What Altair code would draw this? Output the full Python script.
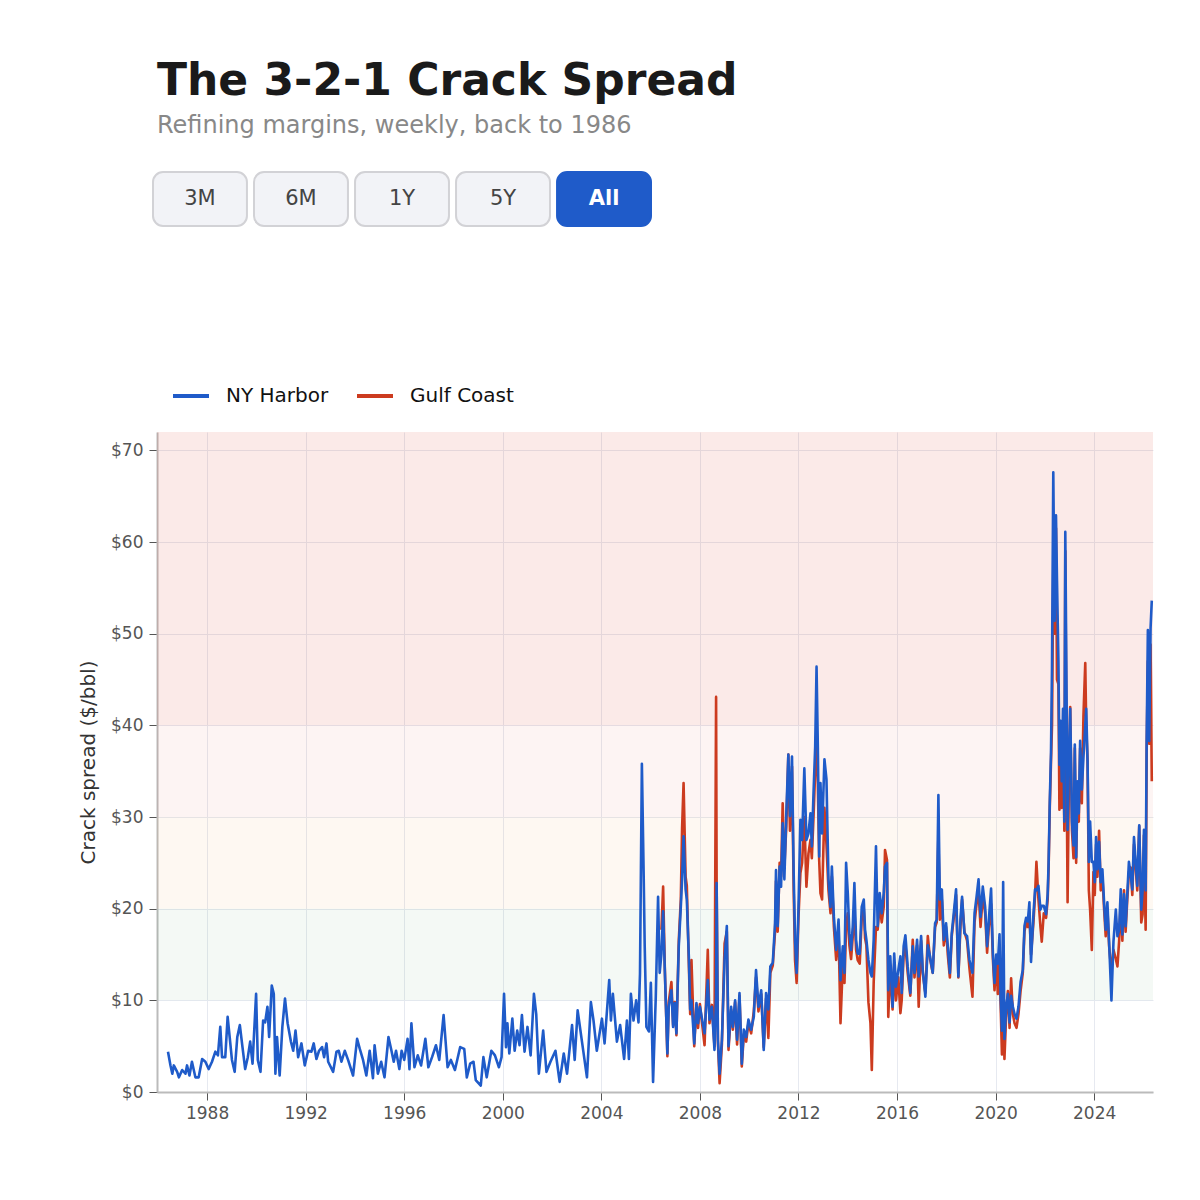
import altair as alt
import pandas as pd

# weekly 3-2-1 crack spread ($/bbl)
# 1986 - mid 2006: NY Harbor only
early_dates = [
    "1986-06-01", "1986-07-08", "1986-08-04", "1986-08-26", "1986-10-15", "1986-11-10", "1986-12-28",
    "1987-02-15", "1987-03-10", "1987-04-15", "1987-05-22", "1987-07-12", "1987-08-30", "1987-10-20",
    "1987-12-07", "1988-01-25", "1988-03-14", "1988-05-03", "1988-06-10", "1988-07-15", "1988-08-10",
    "1988-09-27", "1988-11-01", "1988-12-01", "1989-01-04", "1989-02-13", "1989-03-24", "1989-05-01",
    "1989-06-09", "1989-07-19", "1989-08-27", "1989-10-01", "1989-11-05", "1989-12-28", "1990-01-22",
    "1990-03-03", "1990-04-11", "1990-05-11", "1990-06-14", "1990-07-09", "1990-08-17", "1990-09-16",
    "1990-10-10", "1990-11-03", "1990-12-12", "1991-01-21", "1991-03-01", "1991-04-09", "1991-05-28",
    "1991-07-01", "1991-08-04", "1991-09-12", "1991-10-31", "1991-12-19", "1992-02-07", "1992-03-27",
    "1992-04-30", "1992-06-09", "1992-07-18", "1992-09-01", "1992-10-01", "1992-11-05", "1992-11-30",
    "1993-02-12", "1993-04-02", "1993-05-06", "1993-06-15", "1993-08-03", "1993-09-21", "1993-12-04",
    "1994-02-02", "1994-03-14", "1994-05-01", "1994-06-19", "1994-08-07", "1994-09-25", "1994-10-19",
    "1994-12-07", "1995-01-25", "1995-03-15", "1995-05-13", "1995-06-21", "1995-07-30", "1995-09-02",
    "1995-10-21", "1995-11-24", "1996-01-02", "1996-02-20", "1996-03-19", "1996-04-17", "1996-06-01",
    "1996-07-20", "1996-09-07", "1996-11-10", "1996-12-24", "1997-02-17", "1997-04-16", "1997-06-04",
    "1997-08-07", "1997-10-05", "1997-11-23", "1998-01-22", "1998-04-10", "1998-06-09", "1998-07-17",
    "1998-09-05", "1998-10-24", "1998-11-27", "1999-02-09", "1999-03-20", "1999-05-08", "1999-07-16",
    "1999-09-07", "1999-11-05", "1999-12-14", "2000-01-20", "2000-02-18", "2000-03-10", "2000-04-07",
    "2000-05-22", "2000-06-25", "2000-08-02", "2000-09-06", "2000-10-11", "2000-11-19", "2001-01-01",
    "2001-02-17", "2001-04-07", "2001-05-11", "2001-06-19", "2001-08-22", "2001-10-10", "2001-12-08",
    "2002-02-20", "2002-04-23", "2002-06-23", "2002-08-11", "2002-10-24", "2002-12-02", "2003-01-15",
    "2003-03-20", "2003-06-02", "2003-07-30", "2003-09-07", "2003-10-26", "2004-01-10", "2004-02-18",
    "2004-04-27", "2004-05-22", "2004-06-20", "2004-08-19", "2004-10-06", "2004-12-04", "2005-01-14",
    "2005-02-13", "2005-03-14", "2005-04-22", "2005-05-31", "2005-07-05", "2005-07-27", "2005-08-24",
    "2005-09-20", "2005-10-05", "2005-10-30", "2005-12-06", "2006-01-04", "2006-02-06", "2006-03-18",
    "2006-04-21", "2006-05-15",
]
early_ny = [
    4.4, 2.9, 2.0, 2.9, 2.2, 1.6, 2.4,
    2.0, 2.9, 1.8, 3.3, 1.6, 1.6, 3.6,
    3.3, 2.5, 3.3, 4.4, 4.0, 7.1, 3.8,
    3.8, 8.2, 6.0, 3.5, 2.2, 6.0, 7.3,
    4.9, 2.5, 3.8, 5.5, 3.1, 10.7, 3.5,
    2.2, 7.8, 7.6, 9.3, 6.0, 11.6, 10.7,
    2.0, 6.0, 1.8, 7.1, 10.2, 7.5, 5.5,
    4.5, 6.7, 3.8, 5.3, 2.9, 4.5, 4.4,
    5.3, 3.6, 4.5, 4.9, 3.8, 5.3, 3.3,
    2.2, 4.4, 4.5, 3.3, 4.5, 3.5, 1.8,
    5.8, 4.7, 3.5, 1.8, 4.5, 1.5, 5.1,
    2.0, 3.3, 1.6, 6.0, 4.7, 3.3, 4.5,
    2.5, 4.5, 3.5, 5.8, 2.5, 7.5, 2.7,
    4.0, 2.9, 5.8, 2.7, 3.8, 5.1, 3.5,
    8.4, 2.7, 3.5, 2.4, 4.9, 4.7, 1.6,
    3.1, 3.3, 1.3, 0.7, 3.8, 1.6, 4.5,
    4.0, 2.7, 3.8, 10.7, 4.9, 7.5, 4.2,
    8.0, 4.5, 6.7, 5.1, 8.4, 4.4, 7.1,
    4.0, 10.7, 8.5, 2.0, 6.7, 2.2, 3.3,
    4.5, 1.1, 4.2, 2.0, 7.3, 3.5, 8.9,
    5.5, 1.6, 9.8, 7.8, 4.5, 8.0, 5.3,
    12.2, 7.8, 10.7, 5.5, 7.3, 3.6, 7.8,
    3.6, 10.7, 7.8, 10.0, 7.6, 12.9, 35.8,
    23.5, 15.9, 7.1, 6.6, 11.9, 1.1, 10.4,
    21.3, 13.0,
]

# mid 2006 onwards: both hubs
late_dates = [
    "2006-06-10", "2006-07-05", "2006-07-30", "2006-09-06", "2006-09-26", "2006-11-05", "2006-11-30",
    "2006-12-24", "2007-01-18", "2007-02-22", "2007-03-24", "2007-04-12", "2007-05-04", "2007-06-03",
    "2007-06-21", "2007-07-21", "2007-08-10", "2007-08-29", "2007-10-09", "2007-11-11", "2007-12-05",
    "2008-01-01", "2008-03-10", "2008-04-27", "2008-05-22", "2008-06-27", "2008-08-04", "2008-08-28",
    "2008-09-05", "2008-09-24", "2008-10-19", "2008-11-22", "2009-01-01", "2009-02-03", "2009-02-28",
    "2009-04-08", "2009-05-04", "2009-06-06", "2009-07-05", "2009-08-10", "2009-09-13", "2009-10-13",
    "2009-11-17", "2009-12-20", "2010-01-30", "2010-03-10", "2010-04-12", "2010-05-18", "2010-06-28",
    "2010-08-04", "2010-09-08", "2010-10-12", "2010-11-10", "2010-12-16", "2011-01-19", "2011-02-02",
    "2011-02-27", "2011-03-28", "2011-04-18", "2011-05-12", "2011-06-06", "2011-07-05", "2011-08-04",
    "2011-08-28", "2011-09-27", "2011-10-22", "2011-11-11", "2011-12-05", "2012-01-01", "2012-01-30",
    "2012-02-24", "2012-03-28", "2012-04-28", "2012-05-28", "2012-06-27", "2012-07-17", "2012-08-11",
    "2012-09-05", "2012-09-25", "2012-10-14", "2012-11-03", "2012-11-22", "2012-12-16", "2013-01-20",
    "2013-02-19", "2013-03-21", "2013-04-20", "2013-05-10", "2013-06-09", "2013-07-13", "2013-08-17",
    "2013-09-15", "2013-10-19", "2013-11-13", "2013-12-07", "2014-01-01", "2014-01-25", "2014-02-19",
    "2014-03-16", "2014-04-09", "2014-05-04", "2014-05-28", "2014-06-27", "2014-07-27", "2014-08-26",
    "2014-09-14", "2014-10-04", "2014-11-03", "2014-12-03", "2014-12-23", "2015-01-20", "2015-02-23",
    "2015-03-20", "2015-04-19", "2015-05-19", "2015-06-18", "2015-07-07", "2015-08-05", "2015-08-24",
    "2015-09-23", "2015-10-27", "2015-11-20", "2015-12-16", "2016-01-20", "2016-02-20", "2016-03-10",
    "2016-04-08", "2016-05-04", "2016-06-07", "2016-07-16", "2016-08-21", "2016-09-16", "2016-10-24",
    "2016-11-17", "2016-12-23", "2017-01-16", "2017-02-24", "2017-04-01", "2017-05-04", "2017-06-13",
    "2017-07-18", "2017-08-11", "2017-09-05", "2017-09-27", "2017-10-26", "2017-11-24", "2017-12-28",
    "2018-01-22", "2018-02-22", "2018-03-22", "2018-04-21", "2018-05-25", "2018-06-28", "2018-07-29",
    "2018-08-22", "2018-09-26", "2018-11-04", "2018-12-09", "2019-01-23", "2019-02-23", "2019-03-25",
    "2019-04-23", "2019-05-23", "2019-06-25", "2019-07-30", "2019-08-28", "2019-09-23", "2019-10-26",
    "2019-11-22", "2019-12-16", "2020-01-10", "2020-02-03", "2020-02-28", "2020-03-14", "2020-04-04",
    "2020-04-22", "2020-05-11", "2020-06-06", "2020-07-01", "2020-07-26", "2020-08-18", "2020-09-13",
    "2020-10-08", "2020-11-06", "2020-12-05", "2021-01-05", "2021-02-07", "2021-03-04", "2021-03-28",
    "2021-04-22", "2021-05-16", "2021-06-09", "2021-07-15", "2021-08-08", "2021-08-28", "2021-09-27",
    "2021-10-27", "2021-11-15", "2021-12-15", "2022-01-18", "2022-02-11", "2022-02-25", "2022-03-14",
    "2022-04-01", "2022-04-16", "2022-05-05", "2022-05-25", "2022-06-14", "2022-06-29", "2022-07-20",
    "2022-08-04", "2022-08-19", "2022-09-07", "2022-09-26", "2022-10-16", "2022-10-30", "2022-11-14",
    "2022-12-03", "2022-12-23", "2023-01-11", "2023-02-06", "2023-03-01", "2023-03-20", "2023-04-09",
    "2023-04-29", "2023-05-18", "2023-06-07", "2023-07-02", "2023-07-26", "2023-08-22", "2023-09-05",
    "2023-09-25", "2023-10-14", "2023-11-02", "2023-11-27", "2023-12-21", "2024-01-10", "2024-01-30",
    "2024-02-18", "2024-03-14", "2024-04-07", "2024-05-02", "2024-05-27", "2024-06-20", "2024-07-15",
    "2024-08-09", "2024-09-13", "2024-10-13", "2024-11-17", "2024-12-11", "2025-01-05", "2025-01-29",
    "2025-02-22", "2025-03-18", "2025-04-11", "2025-05-06", "2025-05-30", "2025-06-24", "2025-07-19",
    "2025-08-13", "2025-09-07", "2025-10-01", "2025-10-30", "2025-11-29", "2025-12-19", "2026-01-08",
    "2026-02-02", "2026-02-17", "2026-03-07", "2026-03-27", "2026-04-16", "2026-05-04",
]
late_ny = [
    15.1, 19.7, 13.3, 4.2, 9.3, 11.1, 7.1,
    9.7, 6.4, 15.9, 20.2, 23.2, 27.9, 22.1,
    21.0, 14.8, 9.0, 10.0, 5.3, 9.7, 7.5,
    9.3, 6.4, 12.2, 7.9, 9.3, 4.6, 10.5,
    22.8, 5.7, 2.0, 5.7, 14.4, 18.1, 5.0,
    9.3, 7.1, 10.0, 5.7, 10.8, 3.1, 6.8,
    6.0, 7.9, 6.8, 8.2, 13.3, 9.3, 11.1,
    4.6, 10.8, 9.0, 13.7, 14.1, 18.4, 24.2,
    18.1, 24.6, 22.4, 29.3, 23.2, 30.4, 36.8,
    30.1, 36.6, 23.9, 16.6, 13.0, 19.9, 29.7,
    27.5, 35.3, 27.5, 28.2, 30.4, 26.8, 32.6,
    37.7, 46.4, 37.7, 25.7, 33.7, 28.2, 36.3,
    34.1, 23.2, 20.2, 24.6, 19.1, 15.5, 18.8,
    12.2, 15.9, 13.0, 25.0, 21.7, 17.3, 15.5,
    18.1, 22.8, 16.6, 15.1, 15.1, 20.2, 21.0,
    17.7, 16.6, 14.4, 13.0, 12.6, 16.6, 26.8,
    18.1, 21.7, 19.5, 21.7, 24.6, 25.0, 11.1,
    14.8, 9.3, 15.1, 11.5, 13.3, 14.8, 10.8,
    15.9, 17.1, 13.7, 10.8, 15.9, 13.0, 16.6,
    12.6, 17.0, 13.3, 10.4, 16.0, 14.8, 13.0,
    18.4, 18.8, 32.4, 21.0, 22.1, 16.6, 18.4,
    15.9, 13.0, 17.3, 19.5, 22.1, 12.6, 18.8,
    21.3, 17.3, 17.0, 14.4, 13.0, 19.5, 21.3,
    23.2, 19.1, 22.4, 20.2, 15.9, 18.8, 22.2,
    15.1, 11.9, 15.0, 14.0, 17.2, 10.7, 6.7,
    22.9, 5.8, 9.3, 10.7, 7.6, 10.5, 9.3,
    8.5, 8.0, 9.3, 12.0, 13.3, 18.1, 19.0,
    18.6, 20.7, 14.2, 19.4, 22.1, 22.0, 22.5,
    19.9, 20.3, 20.3, 19.4, 21.6, 25.1, 31.7,
    37.0, 46.2, 67.6, 51.4, 62.9, 55.8, 47.1,
    35.7, 40.5, 33.9, 41.8, 29.5, 61.1, 47.1,
    28.6, 36.1, 41.8, 29.5, 26.9, 37.9, 25.6,
    33.9, 30.4, 38.3, 33.0, 36.5, 40.0, 41.8,
    36.1, 25.1, 29.5, 25.1, 25.1, 22.9, 27.8,
    24.3, 27.3, 22.9, 24.3, 20.7, 17.7, 20.7,
    16.4, 10.0, 16.4, 19.9, 17.0, 17.7, 22.1,
    17.2, 21.6, 18.1, 21.6, 25.1, 23.8, 22.1,
    27.8, 25.1, 22.5, 29.1, 19.9, 22.0, 28.6,
    22.0, 38.3, 50.4, 38.3, 50.6, 53.6,
]
late_gulf = [
    17.7, 22.4, 13.5, 3.9, 9.8, 12.0, 7.3,
    9.8, 6.2, 16.5, 21.0, 28.8, 33.7, 23.5,
    22.5, 14.0, 8.5, 14.4, 5.0, 9.5, 7.0,
    9.6, 5.1, 15.5, 7.5, 9.5, 5.0, 43.1,
    22.8, 5.5, 0.95, 5.2, 16.2, 17.5, 4.6,
    9.0, 6.8, 9.8, 5.2, 10.5, 2.8, 6.3,
    5.5, 7.5, 6.4, 8.8, 12.5, 8.8, 10.7,
    4.9, 10.2, 5.9, 13.0, 13.8, 17.5, 23.0,
    17.5, 25.0, 23.5, 31.5, 24.5, 29.0, 36.8,
    28.5, 35.5, 22.0, 14.4, 11.9, 19.0, 23.9,
    25.0, 30.0, 22.4, 26.0, 27.5, 25.5, 30.0,
    35.0, 40.0, 33.7, 25.3, 21.7, 21.0, 31.0,
    27.0, 22.0, 19.5, 23.5, 18.0, 14.4, 17.5,
    7.5, 14.0, 11.9, 18.0, 19.5, 16.0, 14.5,
    17.0, 20.0, 15.5, 14.4, 14.0, 19.0, 20.0,
    16.8, 16.0, 9.8, 7.5, 2.4, 12.0, 18.0,
    17.7, 20.5, 18.5, 20.2, 26.4, 25.3, 8.2,
    13.5, 9.0, 14.0, 10.0, 12.5, 8.6, 10.0,
    15.0, 16.0, 13.0, 10.5, 16.6, 12.5, 16.0,
    9.3, 16.5, 13.0, 10.8, 17.0, 14.5, 13.0,
    18.0, 18.5, 28.0, 18.8, 21.0, 16.0, 18.0,
    15.0, 12.5, 17.0, 19.0, 21.5, 12.5, 18.0,
    21.0, 17.5, 16.5, 13.5, 10.4, 18.5, 20.5,
    22.0, 18.0, 21.5, 19.5, 15.2, 18.0, 20.5,
    14.5, 11.1, 14.5, 10.7, 16.0, 10.0, 4.1,
    12.0, 3.6, 8.5, 11.0, 7.0, 12.4, 8.5,
    7.5, 7.0, 8.5, 11.0, 13.0, 17.5, 18.5,
    18.0, 19.5, 15.0, 18.5, 21.5, 25.1, 21.0,
    18.0, 16.4, 19.5, 19.0, 21.0, 24.5, 31.0,
    36.0, 40.0, 57.0, 50.0, 61.5, 45.0, 44.5,
    30.8, 38.0, 31.0, 40.0, 28.5, 59.0, 40.0,
    20.7, 34.5, 42.0, 28.5, 25.5, 37.5, 25.0,
    33.0, 29.5, 37.5, 31.5, 41.0, 46.8, 40.0,
    36.0, 22.0, 19.9, 15.5, 24.0, 21.5, 27.0,
    23.5, 28.5, 22.0, 23.5, 20.0, 17.0, 20.0,
    16.0, 13.0, 15.5, 14.5, 13.7, 16.5, 21.0,
    16.5, 22.0, 17.5, 21.0, 24.0, 24.5, 21.5,
    27.0, 24.5, 22.0, 29.0, 18.5, 19.4, 28.0,
    17.7, 37.0, 47.0, 38.0, 48.8, 33.9,
]

assert len(early_dates) == len(early_ny), (len(early_dates), len(early_ny))
assert len(late_dates) == len(late_ny) == len(late_gulf), (
    len(late_dates), len(late_ny), len(late_gulf))

series_names = ["NY Harbor", "Gulf Coast"]
series_colors = ["#1f5bc9", "#cc3b1f"]

# shaded margin zones behind the lines
zone_lo = [10, 20, 30, 40]
zone_hi = [20, 30, 40, 72]
zone_names = ["ok", "good", "strong", "extreme"]
zone_colors = ["#3c9650", "#f5a040", "#dc3c2c", "#dc3c2c"]
zone_opacity = [0.055, 0.07, 0.055, 0.11]

tick_years = [1988, 1992, 1996, 2000, 2004, 2008, 2012, 2016, 2020, 2024]
y_ticks = [0, 10, 20, 30, 40, 50, 60, 70]

buttons = ["3M", "6M", "1Y", "5Y", "All"]
active_button = "All"

FONT = "DejaVu Sans"

ny = pd.DataFrame({"date": early_dates + late_dates, "spread": early_ny + late_ny})
ny["series"] = "NY Harbor"
gulf = pd.DataFrame({"date": late_dates, "spread": late_gulf})
gulf["series"] = "Gulf Coast"
lines = pd.concat([gulf, ny], ignore_index=True)

zones = pd.DataFrame({
    "lo": zone_lo, "hi": zone_hi, "zone": zone_names, "alpha": zone_opacity,
})

x_enc = alt.X(
    "date:T",
    title=None,
    scale=alt.Scale(domain=["1985-12-20", "2026-05-22"]),
    axis=alt.Axis(
        values=[alt.DateTime(year=y) for y in tick_years],
        format="%Y",
        labelFontSize=17,
        labelColor="#555555",
        labelPadding=5,
        tickColor="#555555",
        tickSize=8,
        domainColor="#bbbbbb",
        domainWidth=2,
        gridColor="#e6e9f0",
    ),
)
y_enc = alt.Y(
    "spread:Q",
    title="Crack spread ($/bbl)",
    scale=alt.Scale(domain=[0, 72], nice=False),
    axis=alt.Axis(
        values=y_ticks,
        labelExpr="'$' + datum.value",
        labelFontSize=17,
        labelColor="#555555",
        labelPadding=6,
        tickColor="#555555",
        tickSize=8,
        domainColor="#bbbbbb",
        domainWidth=2,
        gridColor="#e6e9f0",
        titleFontSize=20,
        titleFontWeight="normal",
        titleColor="#333333",
        titlePadding=12,
    ),
)

bands = alt.Chart(zones).mark_rect().encode(
    y=alt.Y("lo:Q", scale=alt.Scale(domain=[0, 72], nice=False)),
    y2="hi:Q",
    fill=alt.Fill("zone:N", scale=alt.Scale(domain=zone_names, range=zone_colors), legend=None),
    opacity=alt.Opacity("alpha:Q", scale=None, legend=None),
)

color_enc = alt.Color(
    "series:N",
    scale=alt.Scale(domain=series_names, range=series_colors),
    legend=alt.Legend(
        title=None,
        orient="none",
        legendX=14,
        legendY=-56,
        direction="horizontal",
        symbolType="stroke",
        symbolStrokeWidth=4,
        symbolSize=1296,
        labelFontSize=20,
        labelColor="#111111",
        labelFont=FONT,
        labelOffset=15,
        columnPadding=20,
        padding=0,
    ),
)

line_base = alt.Chart(lines).mark_line(strokeWidth=2.6, strokeJoin="round").encode(
    x=x_enc, y=y_enc, color=color_enc
)
gulf_line = line_base.transform_filter(alt.datum.series == "Gulf Coast")
ny_line = line_base.transform_filter(alt.datum.series == "NY Harbor")

main = alt.layer(bands, gulf_line, ny_line).properties(width=996, height=660)

# range selector buttons above the plot
btn = pd.DataFrame({"label": buttons, "active": [b == active_button for b in buttons]})
btn_base = alt.Chart(btn).encode(
    x=alt.X("label:N", sort=buttons, axis=None,
            scale=alt.Scale(paddingInner=0.07, paddingOuter=0)),
)
btn_boxes = btn_base.mark_bar(cornerRadius=10, strokeWidth=2, xOffset=-4).encode(
    fill=alt.condition("datum.active", alt.value("#1f5bc9"), alt.value("#f2f3f7")),
    stroke=alt.condition("datum.active", alt.value("#1f5bc9"), alt.value("#d2d2d6")),
)
btn_text = btn_base.mark_text(fontSize=21, font=FONT, color="#444444", xOffset=-4).encode(
    text="label:N"
).transform_filter("!datum.active")
btn_text_on = btn_base.mark_text(fontSize=21, font=FONT, fontWeight="bold",
                                 color="#ffffff", xOffset=-4).encode(
    text="label:N"
).transform_filter("datum.active")
button_row = alt.layer(btn_boxes, btn_text, btn_text_on).properties(width=498, height=54)

chart = (
    alt.vconcat(button_row, main, spacing=206, bounds="flush")
    .resolve_scale(color="independent")
    .properties(
        title=alt.Title(
            "The 3-2-1 Crack Spread",
            subtitle="Refining margins, weekly, back to 1986",
            anchor="start",
            frame="group",
            font=FONT,
            fontSize=44,
            fontWeight="bold",
            color="#1a1a1a",
            subtitleFont=FONT,
            subtitleFontSize=24,
            subtitleColor="#888888",
            subtitlePadding=10,
            offset=33,
        ),
        padding={"left": 70, "top": 52, "right": 20, "bottom": 20},
    )
    .configure(font=FONT)
    .configure_view(stroke=None)
)

chart.save("out.html", embed_options={"renderer": "svg", "actions": False})
